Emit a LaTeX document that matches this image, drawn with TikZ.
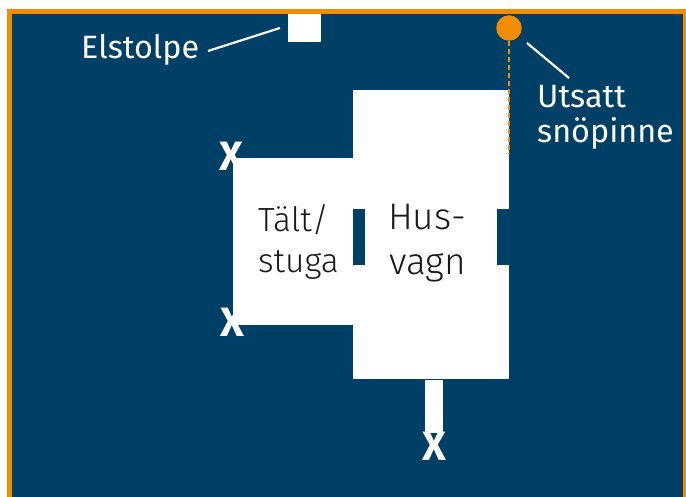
\documentclass[tikz,border=0pt]{standalone}
\usepackage{fontspec}
\setmainfont{Fira Sans}
\newfontfamily\lightfont[UprightFont=* Light]{Fira Sans}
\definecolor{navy}{HTML}{003F66}
\definecolor{amber}{HTML}{F28C00}
\definecolor{ink}{HTML}{1A1A1A}
\tikzset{
  plan/.style={fill=white,draw=none},
  slot/.style={fill=navy,draw=none},
  label/.style={text=white,font=\fontsize{32.3}{35}\selectfont,anchor=base west,inner sep=0pt,align=left},
  inner/.style={text=ink,font=\lightfont\fontsize{33.5}{36}\selectfont,anchor=base west,inner sep=0pt},
  innerbig/.style={text=ink,font=\lightfont\fontsize{37}{40}\selectfont,anchor=base west,inner sep=0pt},
  cross/.style={text=white,font=\bfseries\fontsize{41}{41}\selectfont,inner sep=0pt,anchor=base},
  leader/.style={draw=white,line width=2.2pt},
  pin/.style={draw=amber,line width=2pt,dash pattern=on 5pt off 3pt}
}
\begin{document}
\begin{tikzpicture}[x=1pt,y=-1pt]
\useasboundingbox (0,0) rectangle (686,497);
\fill[white] (0,0) rectangle (686,497);
\fill[navy] (7,9) rectangle (686,497);
\fill[amber] (7,9) rectangle (686,14);
\fill[amber] (7,9) rectangle (12,497);
\fill[amber] (683,9) rectangle (686,497);
% plan
\node[plan,minimum width=33pt,minimum height=28pt,inner sep=0pt,anchor=north west] (post) at (288,14) {};
\fill[plan] (233,158) rectangle (353,325);
\fill[plan] (353,90) rectangle (509,379);
\fill[slot] (353,209) rectangle (365,265);
\fill[slot] (497,209) rectangle (509,265);
\fill[plan] (425,380) rectangle (443,433);
% pin
\coordinate (pinend) at (509,153);
\node[circle,fill=amber,minimum size=25.5pt,inner sep=0pt] (pin) at (509,28) {};
\draw[pin] (pin) -- (pinend);
% labels
\node[label] (elstolpe) at (81,59) {Elstolpe};
\node[label] (utsatt) at (537,108) {Utsatt};
\node[label] (snopinne) at (537,143) {snöpinne};
\coordinate (l1a) at (208,51);
\coordinate (l1b) at (280,28);
\coordinate (l2a) at (527,43);
\coordinate (l2b) at (569,78);
\draw[leader] (l1a) -- (l1b);
\draw[leader] (l2a) -- (l2b);
\node[inner] (talt) at (258,232) {Tält/};
\node[inner] (stuga) at (258,273) {stuga};
\node[innerbig] (hus) at (388,230) {Hus-};
\node[innerbig] (vagn) at (389,275) {vagn};
\node[cross] (x1) at (231,171) {X};
\node[cross] (x2) at (232,337) {X};
\node[cross] (x3) at (434,460) {X};
\end{tikzpicture}
\end{document}
